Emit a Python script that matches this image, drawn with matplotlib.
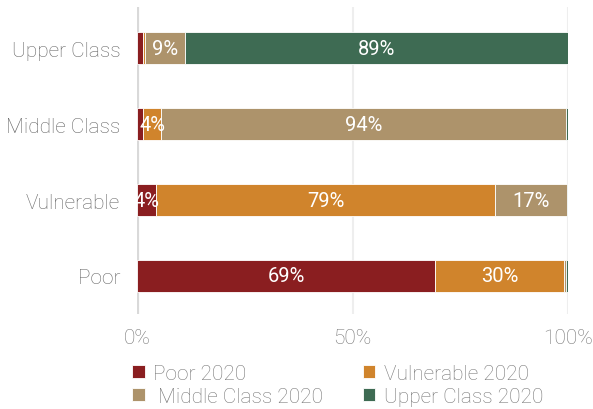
import matplotlib.pyplot as plt
import numpy as np

plt.rcParams['font.family'] = ['Roboto', 'DejaVu Sans']
plt.rcParams['font.weight'] = 'light'

categories = ['Poor', 'Vulnerable', 'Middle Class', 'Upper Class']
series = ['Poor 2020', 'Vulnerable 2020', ' Middle Class 2020', 'Upper Class 2020']
poor = [69.2, 4.4, 1.4, 1.4]
vulnerable = [29.9, 78.7, 4.2, 0.5]
middle = [0.3, 16.6, 93.9, 9.2]
upper = [0.6, 0.3, 0.5, 88.9]
colors = ['#8a1e20', '#d0842c', '#ad936b', '#3e6b53']

fig = plt.figure(figsize=(5.93, 4.10), dpi=100)
ax = fig.add_axes([0.231, 0.232, 0.727, 0.748])

y = np.arange(len(categories))
left = np.zeros(len(categories))
handles = []
for name, vals, col in zip(series, [poor, vulnerable, middle, upper], colors):
    vals = np.array(vals)
    bars = ax.barh(y, vals, left=left, height=0.42, color=col,
                   edgecolor='white', linewidth=0.6, label=name, zorder=3)
    handles.append(bars)
    for b, v, l in zip(bars, vals, left):
        if v >= 3.5:
            ax.text(l + v / 2, b.get_y() + b.get_height() / 2, f'{v:.0f}%',
                    ha='center', va='center', color='white', fontsize=14.5,
                    fontweight='normal', zorder=4)
    left += vals

ax.set_xlim(0, 100)
ax.set_ylim(-0.5, 3.54)
ax.set_yticks(y)
ax.set_yticklabels(categories, fontsize=15, color='#666666')
ax.set_xticks([0, 50, 100])
ax.set_xticklabels(['0%', '50%', '100%'], fontsize=15, color='#777777')
ax.tick_params(length=0)
ax.tick_params(axis='y', pad=12)
ax.tick_params(axis='x', pad=10)
for s in ax.spines.values():
    s.set_visible(False)
ax.axvline(0, color='#d9d9d9', linewidth=3, zorder=2)
ax.grid(axis='x', color='#eeeeee', linewidth=1.5, zorder=0)

# two rows: Poor / Vulnerable on top, Middle / Upper below
order = [0, 2, 1, 3]
leg = ax.legend([handles[i] for i in order], [series[i] for i in order],
                loc='upper left', bbox_to_anchor=(-0.035, -0.128), ncol=2,
                frameon=False, fontsize=15, handlelength=0.6, handleheight=0.6,
                handletextpad=0.4, columnspacing=1.9, labelspacing=0.22,
                borderpad=0)
for t in leg.get_texts():
    t.set_color('#777777')

fig.savefig('out.png', dpi=100)
